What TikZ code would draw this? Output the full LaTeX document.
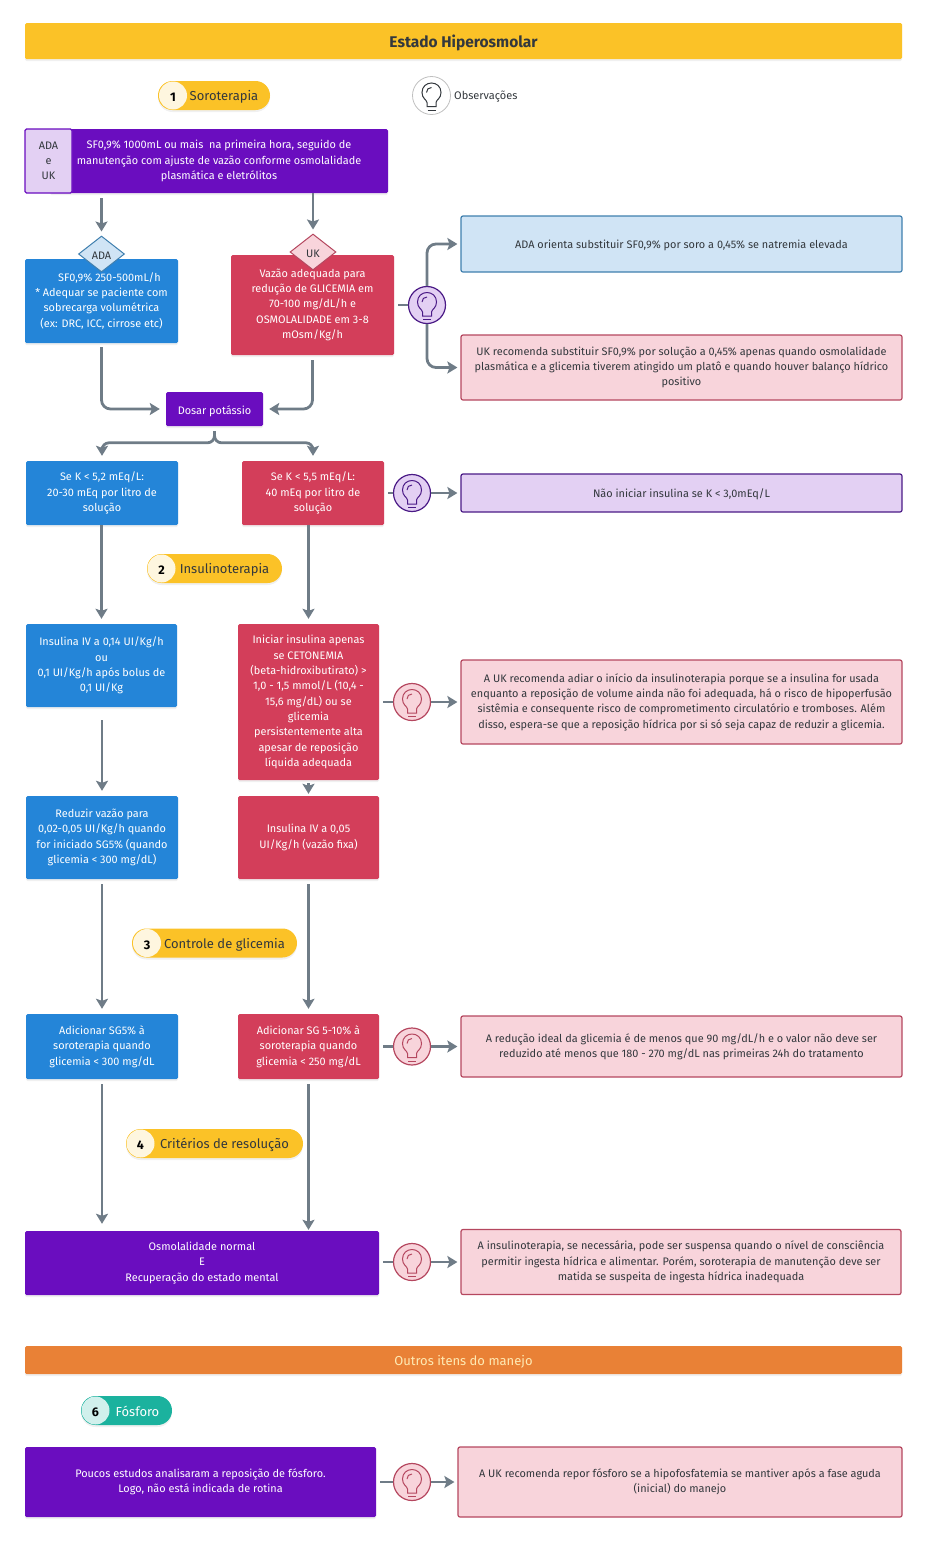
\documentclass[tikz,border=0pt]{standalone}
\usepackage{fontspec}
\setmainfont{Fira Sans}
\usetikzlibrary{arrows.meta,shadows,shapes.geometric}

\definecolor{ouro}{HTML}{FBC227}
\definecolor{roxo}{HTML}{6A0DBF}
\definecolor{azul}{HTML}{2485D8}
\definecolor{rubi}{HTML}{D33E5A}
\definecolor{laranja}{HTML}{E98136}
\definecolor{verde}{HTML}{1BB29E}
\definecolor{cinza}{HTML}{6F7C87}
\definecolor{escuro}{HTML}{33383D}
\definecolor{azulc}{HTML}{D0E4F5}
\definecolor{azule}{HTML}{3F7FAE}
\definecolor{rosa}{HTML}{F8D4DB}
\definecolor{rosae}{HTML}{B5475F}
\definecolor{lilas}{HTML}{E3D0F3}
\definecolor{lilase}{HTML}{4A1A86}

\tikzset{
  txt/.style={font=\fontsize{10.9}{15.3}\selectfont, align=center, inner sep=0pt, execute at begin node={\rule{0pt}{1em}}},
  linhas/.style={execute at begin node={\rule{0pt}{13pt}}},
  caixa/.style={txt, linhas, rounded corners=1.5pt, text=white, drop shadow={opacity=.12, shadow xshift=0pt, shadow yshift=-2pt}},
  caixaroxa/.style={caixa, fill=roxo},
  caixaazul/.style={caixa, fill=azul},
  caixarubi/.style={caixa, fill=rubi},
  notaazul/.style={txt, rounded corners=2pt, text=escuro, line width=1.2pt, draw=azule, fill=azulc},
  notarosa/.style={txt, linhas, rounded corners=2pt, text=escuro, line width=1.2pt, draw=rosae, fill=rosa},
  notalilas/.style={txt, rounded corners=2pt, text=escuro, line width=1.2pt, draw=lilase, fill=lilas},
  faixa/.style={txt, rounded corners=1.5pt, minimum width=877pt, drop shadow={opacity=.12, shadow xshift=0pt, shadow yshift=-2pt}},
  pill/.style={txt, font=\fontsize{13}{15}\selectfont, rounded corners=14.5pt, minimum height=29pt, text=escuro, fill=ouro, drop shadow={opacity=.12, shadow xshift=0pt, shadow yshift=-2pt}},
  num/.style={txt, circle, minimum size=28pt, font=\fontsize{12.5}{15}\selectfont\bfseries, text=black, fill=#1, execute at begin node={}},
  losango/.style={txt, diamond, aspect=1.28, minimum width=46pt, minimum height=36pt, text=escuro, line width=1pt},
  link/.style={draw=cinza, line width=2.8pt, -{Stealth[length=10pt,width=12pt,inset=2pt]}},
  stub/.style={draw=cinza, line width=2.8pt, shorten <=4pt},
  lamproxa/.style={circle, minimum size=37pt, inner sep=0pt, line width=1.2pt, draw=lilase, fill=lilas},
  lamprosa/.style={circle, minimum size=37pt, inner sep=0pt, line width=1.2pt, draw=rosae, fill=rosa},
  bulbo/.pic={
    \path[pic actions, fill=none] (-4.5,11) -- (-4.5,7) .. controls (-5,4) and (-9.5,3) .. (-9.5,-3)
      .. controls (-9.5,-9) and (-5,-12.5) .. (0,-12.5) .. controls (5,-12.5) and (9.5,-9) .. (9.5,-3)
      .. controls (9.5,3) and (5,4) .. (4.5,7) -- (4.5,11) -- cycle;
    \path[pic actions, fill=none] (-4,14.5) -- (4,14.5);
    \path[pic actions, fill=none] (-5,-3) .. controls (-5,-6) and (-3,-8) .. (0,-8);
  }
}

\begin{document}
\begin{tikzpicture}[x=1pt,y=-1pt]
    \useasboundingbox (0,0) rectangle (938,1543);

    % titulos
    \node[faixa, fill=ouro, minimum height=36pt, font=\fontsize{15.5}{17}\selectfont\bfseries, text=escuro] (titulo) at (463.5,41) {Estado Hiperosmolar};
    \node[faixa, fill=laranja, minimum height=28pt, font=\fontsize{13}{15}\selectfont, text=ouro!35] (outros) at (463.5,1360) {Outros itens do manejo};

    % etapas
    \node[pill, minimum width=112pt] (p1) at (214,95.5) {\hspace*{20pt}Soroterapia};
    \node[num=ouro!15] (n1) at (173,95.5) {1};
    \node[pill, minimum width=135pt] (p2) at (214.5,568.5) {\hspace*{20pt}Insulinoterapia};
    \node[num=ouro!15] (n2) at (161.5,568.5) {2};
    \node[pill, minimum width=165pt] (p3) at (214.5,943) {\hspace*{20pt}Controle de glicemia};
    \node[num=ouro!15] (n3) at (147,943) {3};
    \node[pill, minimum width=177pt] (p4) at (214.5,1143.5) {\hspace*{20pt}Critérios de resolução};
    \node[num=ouro!15] (n4) at (140.5,1143.5) {4};
    \node[pill, fill=verde, text=white, minimum width=91pt] (p6) at (126.5,1410.5) {\hspace*{22pt}Fósforo};
    \node[num=verde!20] (n6) at (95.5,1410.5) {6};

    \node[circle, minimum size=38pt, inner sep=0pt, draw=black!25, line width=.8pt] (obs) at (431.5,95.5) {};
    \pic[draw=escuro, line width=1pt] at (obs) {bulbo};
    \node[txt, anchor=west, font=\fontsize{11}{12}\selectfont, text=escuro] (obstxt) at (454,95.5) {Observações};

    % soroterapia
    \node[caixaroxa, minimum width=338pt, minimum height=64pt] (sf) at (219,161) {SF0,9\% 1000mL ou mais\ \ na primeira hora, seguido de\\manutenção com ajuste de vazão conforme osmolalidade\\plasmática e eletrólitos};
    \node[txt, linhas, minimum width=47pt, minimum height=64pt, rounded corners=1.5pt, fill=lilas, draw=roxo, line width=1.2pt, text=escuro] (guia) at (48.5,161) {ADA\\e\\UK};
    \node[caixaazul, minimum width=153pt, minimum height=84pt] (adabox) at (101.5,301) {\\[-7pt]\hspace*{16pt}SF0,9\% 250-500mL/h\\* Adequar se paciente com\\sobrecarga volumétrica\\(ex: DRC, ICC, cirrose etc)};
    \node[caixarubi, minimum width=163pt, minimum height=100pt] (ukbox) at (312.5,305) {\\[-7pt]Vazão adequada para\\redução de GLICEMIA em\\70-100 mg/dL/h e\\OSMOLALIDADE em 3-8\\mOsm/Kg/h};
    \node[losango, draw=azule, fill=azulc] (ada) at (101.5,254) {ADA};
    \node[losango, draw=rosae, fill=rosa] (uk) at (313,252) {UK};

    \draw[link, shorten <=5pt, shorten >=4pt] (sf.south -| ada) -- (ada.north);
    \draw[link, shorten >=4pt] (sf.south -| uk) -- (uk.north);

    \node[caixaroxa, execute at begin node={\rule{0pt}{1em}}, minimum width=97pt, minimum height=34pt] (dosar) at (214.5,409) {Dosar potássio};
    \draw[link, rounded corners=9pt, shorten <=4pt, shorten >=6pt] (adabox.south) |- (dosar.west);
    \draw[link, rounded corners=9pt, shorten <=5pt, shorten >=6pt] (ukbox.south) |- (dosar.east);

    \node[notaazul, minimum width=441pt, minimum height=56pt] (adanota) at (681.5,244) {ADA orienta substituir SF0,9\% por soro a 0,45\% se natremia elevada};
    \node[notarosa, minimum width=441pt, minimum height=65pt] (uknota) at (681.5,367.5) {UK recomenda substituir SF0,9\% por solução a 0,45\% apenas quando osmolalidade\\plasmática e a glicemia tiverem atingido um platô e quando houver balanço hídrico\\positivo};
    \node[lamproxa] (lamp1) at (427,305) {};
    \pic[draw=lilase, line width=1pt] at (lamp1) {bulbo};
    \draw[stub] (ukbox.east) -- (lamp1.west);
    \draw[link, rounded corners=9pt, shorten >=3pt] (lamp1.north) |- (adanota.west);
    \draw[link, rounded corners=9pt, shorten >=3pt] (lamp1.south) |- (uknota.west);

    % potassio
    \node[caixaazul, minimum width=152pt, minimum height=64pt] (kesq) at (102,493) {Se K < 5,2 mEq/L:\\20-30 mEq por litro de\\solução};
    \node[caixarubi, minimum width=142pt, minimum height=64pt] (kdir) at (313,493) {Se K < 5,5 mEq/L:\\40 mEq por litro de\\solução};
    \draw[link, rounded corners=7pt, shorten <=5pt, shorten >=5pt] (dosar.south) |- ([yshift=18pt]kesq.north) -- (kesq.north);
    \draw[link, rounded corners=7pt, shorten <=5pt, shorten >=5pt] (dosar.south) |- ([yshift=18pt]kdir.north) -- (kdir.north);
    \node[notalilas, minimum width=441pt, minimum height=38pt] (knota) at (681.5,493) {Não iniciar insulina se K < 3,0mEq/L};
    \node[lamproxa] (lamp2) at (412,493) {};
    \pic[draw=lilase, line width=1pt] at (lamp2) {bulbo};
    \draw[stub] (kdir.east) -- (lamp2.west);
    \draw[link, shorten >=3pt] (lamp2.east) -- (knota.west);

    % insulina
    \node[caixaazul, minimum width=151pt, minimum height=83pt] (insesq) at (101.5,665.5) {Insulina IV a 0,14 UI/Kg/h\\ou\\0,1 UI/Kg/h após bolus de\\0,1 UI/Kg};
    \node[caixarubi, minimum width=141pt, minimum height=156pt] (insdir) at (308.5,702) {Iniciar insulina apenas\\se CETONEMIA\\(beta-hidroxibutirato) >\\1,0 - 1,5 mmol/L (10,4 -\\15,6 mg/dL) ou se\\glicemia\\persistentemente alta\\apesar de reposição\\líquida adequada};
    \draw[link, shorten >=5pt] (kesq.south -| insesq) -- (insesq.north);
    \draw[link, shorten >=5pt] (kdir.south -| insdir) -- (insdir.north);
    \node[notarosa, minimum width=441pt, minimum height=84pt] (insnota) at (681.5,702) {A UK recomenda adiar o início da insulinoterapia porque se a insulina for usada\\enquanto a reposição de volume ainda não foi adequada, há o risco de hipoperfusão\\sistêmia e consequente risco de comprometimento circulatório e tromboses. Além\\disso, espera-se que a reposição hídrica por si só seja capaz de reduzir a glicemia.};
    \node[lamprosa] (lamp3) at (412,702) {};
    \pic[draw=rosae, line width=1pt] at (lamp3) {bulbo};
    \draw[stub] (insdir.east) -- (lamp3.west);
    \draw[link, shorten >=3pt] (lamp3.east) -- (insnota.west);

    \node[caixaazul, minimum width=152pt, minimum height=83pt] (redesq) at (102,837.5) {Reduzir vazão para\\0,02-0,05 UI/Kg/h quando\\for iniciado SG5\% (quando\\glicemia < 300 mg/dL)};
    \node[caixarubi, minimum width=141pt, minimum height=83pt] (ivdir) at (308.5,837.5) {Insulina IV a 0,05\\UI/Kg/h (vazão fixa)};
    \draw[link, shorten <=13pt, shorten >=5pt] (insesq.south -| redesq) -- (redesq.north);
    \draw[link, shorten <=3pt, shorten >=2pt] (insdir.south) -- (ivdir.north);

    % glicemia
    \node[caixaazul, minimum width=152pt, minimum height=65pt] (gliesq) at (102,1046.5) {Adicionar SG5\% à\\soroterapia quando\\glicemia < 300 mg/dL};
    \node[caixarubi, minimum width=141pt, minimum height=65pt] (glidir) at (308.5,1046.5) {Adicionar SG 5-10\% à\\soroterapia quando\\glicemia < 250 mg/dL};
    \draw[link, shorten <=5pt, shorten >=5pt] (redesq.south) -- (gliesq.north);
    \draw[link, shorten <=5pt, shorten >=5pt] (ivdir.south) -- (glidir.north);
    \node[notarosa, minimum width=441pt, minimum height=61pt] (glinota) at (681.5,1046.5) {A redução ideal da glicemia é de menos que 90 mg/dL/h e o valor não deve ser\\reduzido até menos que 180 - 270 mg/dL nas primeiras 24h do tratamento};
    \node[lamprosa] (lamp4) at (412,1046.5) {};
    \pic[draw=rosae, line width=1pt] at (lamp4) {bulbo};
    \draw[stub] (glidir.east) -- (lamp4.west);
    \draw[link, shorten >=3pt] (lamp4.east) -- (glinota.west);

    % resolucao
    \node[caixaroxa, minimum width=354pt, minimum height=64pt] (osmo) at (202,1263) {Osmolalidade normal\\E\\Recuperação do estado mental};
    \draw[link, shorten <=5pt, shorten >=7pt] (gliesq.south) -- (gliesq.south |- osmo.north);
    \draw[link, shorten <=5pt, shorten >=1pt] (glidir.south) -- (glidir.south |- osmo.north);
    \node[notarosa, minimum width=440pt, minimum height=65pt] (osmonota) at (681,1262) {A insulinoterapia, se necessária, pode ser suspensa quando o nível de consciência\\permitir ingesta hídrica e alimentar. Porém, soroterapia de manutenção deve ser\\matida se suspeita de ingesta hídrica inadequada};
    \node[lamprosa] (lamp5) at (412,1262) {};
    \pic[draw=rosae, line width=1pt] at (lamp5) {bulbo};
    \draw[stub] (osmo.east |- lamp5) -- (lamp5.west);
    \draw[link, shorten >=3pt] (lamp5.east) -- (osmonota.west);

    % fosforo
    \node[caixaroxa, minimum width=351pt, minimum height=70pt] (fosf) at (200.5,1482) {Poucos estudos analisaram a reposição de fósforo.\\Logo, não está indicada de rotina};
    \node[notarosa, minimum width=444pt, minimum height=70pt] (fosfnota) at (680,1482) {A UK recomenda repor fósforo se a hipofosfatemia se mantiver após a fase aguda\\(inicial) do manejo};
    \node[lamprosa] (lamp6) at (412,1482) {};
    \pic[draw=rosae, line width=1pt] at (lamp6) {bulbo};
    \draw[stub] (fosf.east) -- (lamp6.west);
    \draw[link, shorten >=3pt] (lamp6.east) -- (fosfnota.west);
\end{tikzpicture}
\end{document}
